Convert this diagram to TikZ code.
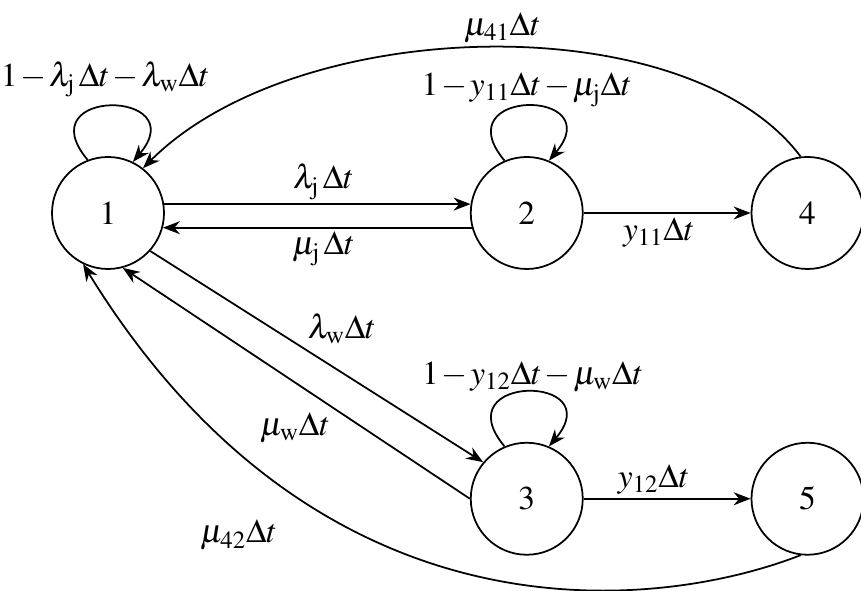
\documentclass[tikz,border=0pt]{standalone}
\usepackage{mathptmx}
\usetikzlibrary{positioning,arrows.meta}
\newcommand\tightmath{\medmuskip=1.5mu\relax}

\begin{document}
\begin{tikzpicture}[
  font=\fontsize{19}{22}\selectfont\tightmath, >={Stealth[length=3.4mm,width=2.6mm]},
  state/.style={circle, draw=black, line width=1pt, minimum size=22.4mm, inner sep=0pt},
  tr/.style={->, line width=1pt},
  lbl/.style={inner sep=2pt},
  selfloop/.style={tr, out=130, in=50, distance=19mm},
]
\useasboundingbox (-2.16,-7.56) rectangle (15.06,4.26);
% states
\node[state] (s1) at (0,0) {$1$};
\node[state, right=61mm of s1]   (s2) {$2$};
\node[state, right=33.4mm of s2] (s4) {$4$};
\node[state, below=34.4mm of s2] (s3) {$3$};
\node[state, right=33.4mm of s3] (s5) {$5$};

% self loops
\draw[selfloop] (s1.111) to node[lbl, above, xshift=-1mm, yshift=1mm]{$1-\lambda_{\mathrm{j}}\,\Delta t-\lambda_{\mathrm{w}}\Delta t$} (s1.64);
\draw[selfloop] (s2.113) to node[lbl, above, yshift=-1mm]{$1-y_{11}\Delta t-\mu_{\mathrm{j}}\Delta t$} (s2.67);
\draw[selfloop] (s3.113) to node[lbl, above, xshift=1.2mm, yshift=-1mm]{$1-y_{12}\Delta t-\mu_{\mathrm{w}}\Delta t$} (s3.67);

% 1 <-> 2, 1 <-> 3
\draw[tr] (s1.9) -- node[lbl, above, pos=.52]{$\lambda_{\mathrm{j}}\,\Delta t$} (s2.171);
\draw[tr] (s2.-165) -- node[lbl, below, pos=.48]{$\mu_{\mathrm{j}}\,\Delta t$} (s1.-15);
\draw[tr] (s1.-42) -- node[lbl, above right, pos=.46]{$\lambda_{\mathrm{w}}\Delta t$} (s3.140);
\draw[tr] (s3.180) -- node[lbl, below left, pos=.39]{$\mu_{\mathrm{w}}\Delta t$} (s1.-75);

% to the absorbing states
\draw[tr] (s2) -- node[lbl, below, pos=.45]{$y_{11}\Delta t$} (s4);
\draw[tr] (s3) -- node[lbl, above, pos=.42]{$y_{12}\Delta t$} (s5);

% back to 1
\draw[tr] (s4.97) .. controls +(-2.28,3.04) and +(3.08,3.08) .. node[lbl, above, pos=.48]{$\mu_{41}\Delta t$} (s1.52);
\draw[tr] (s5.-97) .. controls +(-2.82,-1.1) and +(4.77,-7.75) .. node[lbl, below left, pos=.7, xshift=-7mm, yshift=-1.5mm]{$\mu_{42}\Delta t$} (s1.-116);
\end{tikzpicture}
\end{document}
